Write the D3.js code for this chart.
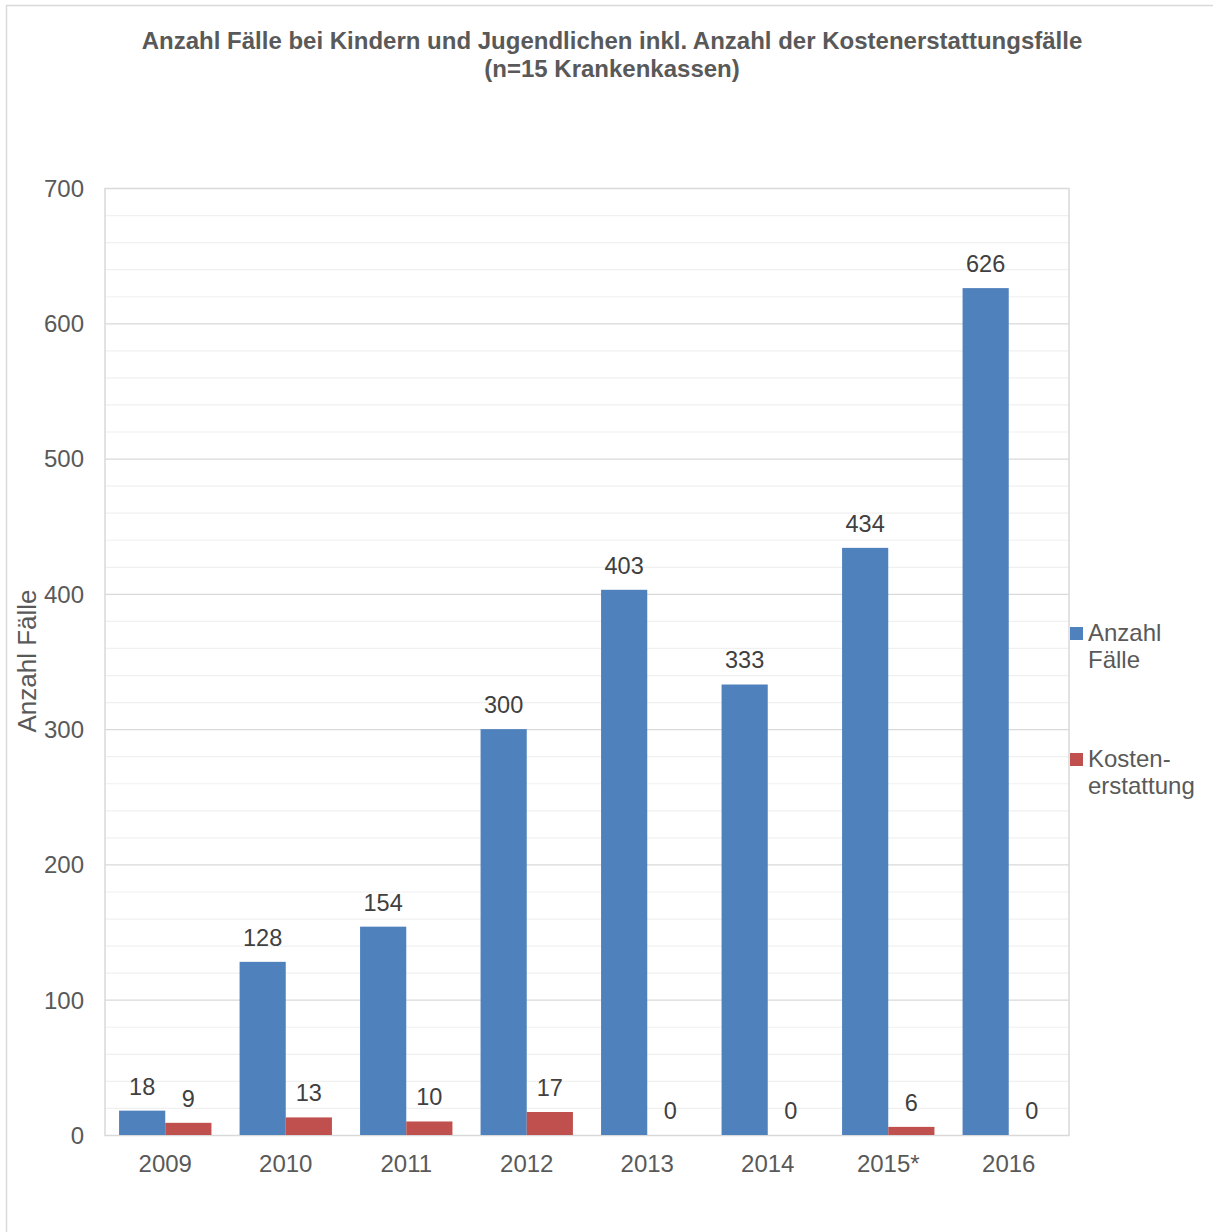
<!DOCTYPE html>
<html>
<head>
<meta charset="utf-8">
<script src="https://cdn.jsdelivr.net/npm/d3@7"></script>
<style>
html,body{margin:0;padding:0;background:#fff;}
svg{display:block;font-family:"Liberation Sans",Arial,sans-serif;}
</style>
</head>
<body>
<svg id="chart" width="1213" height="1232"></svg>
<script>
const categories = ["2009","2010","2011","2012","2013","2014","2015*","2016"];
const anzahlFaelle = [18,128,154,300,403,333,434,626];
const kostenerstattung = [9,13,10,17,0,0,6,0];
const seriesNames = ["Anzahl Fälle","Kostenerstattung"];
const legendLines = [["Anzahl","Fälle"],["Kosten-","erstattung"]];
const yTicks = [0,100,200,300,400,500,600,700];
const titleLines = ["Anzahl Fälle bei Kindern und Jugendlichen inkl. Anzahl der Kostenerstattungsfälle","(n=15 Krankenkassen)"];
const yAxisTitle = "Anzahl Fälle";

(function(){
const colors = ["#4F81BD","#C0504D"];
const textColor = "#595959";
const svg = d3.select("#chart");

svg.append("rect").attr("x",6.5).attr("y",5.5).attr("width",1220).attr("height",1240)
  .attr("fill","none").attr("stroke","#d9d9d9").attr("stroke-width",1.5);

const pL=105, pR=1069, pT=188, pB=1135;
const x = d3.scaleBand().domain(categories).range([pL,pR]).paddingInner(0.2335).paddingOuter(0.1168);
const x1 = d3.scaleBand().domain(seriesNames).range([0,x.bandwidth()]);
const y = d3.scaleLinear().domain([0,700]).range([pB,pT]);

const minor = d3.range(0,701,20).filter(v=>v%100!==0);
svg.append("g").selectAll("line").data(minor).join("line")
  .attr("x1",pL).attr("x2",pR).attr("y1",d=>y(d)+0.5).attr("y2",d=>y(d)+0.5)
  .attr("stroke","#f0f0f0").attr("stroke-width",1.2);
svg.append("g").selectAll("line").data(yTicks).join("line")
  .attr("x1",pL).attr("x2",pR).attr("y1",d=>y(d)+0.5).attr("y2",d=>y(d)+0.5)
  .attr("stroke","#d9d9d9").attr("stroke-width",1.2);
svg.append("rect").attr("x",pL).attr("y",pT+0.5).attr("width",pR-pL).attr("height",pB-pT)
  .attr("fill","none").attr("stroke","#d9d9d9").attr("stroke-width",1.5);

const yAxis = svg.append("g").attr("transform",`translate(${pL-21},0)`)
  .call(d3.axisLeft(y).tickValues(yTicks).tickSize(0).tickPadding(0));
yAxis.select(".domain").remove();
yAxis.selectAll("text").attr("font-size",24).attr("fill",textColor)
  .attr("font-family","Liberation Sans, Arial, sans-serif").attr("dy","0.35em");

const xAxis = svg.append("g").attr("transform",`translate(0,${pB})`)
  .call(d3.axisBottom(x).tickSize(0).tickPadding(0));
xAxis.select(".domain").remove();
xAxis.selectAll("text").attr("font-size",24).attr("fill",textColor)
  .attr("font-family","Liberation Sans, Arial, sans-serif").attr("dy",null).attr("y",37);

const data = categories.map((c,i)=>({cat:c, vals:[anzahlFaelle[i],kostenerstattung[i]]}));
const groups = svg.append("g").selectAll("g").data(data).join("g")
  .attr("transform",d=>`translate(${x(d.cat)},0)`);
groups.selectAll("rect").data(d=>d.vals.map((v,j)=>({v,j}))).join("rect")
  .attr("x",d=>x1(seriesNames[d.j]))
  .attr("width",x1.bandwidth())
  .attr("y",d=>y(d.v))
  .attr("height",d=>pB-y(d.v))
  .attr("fill",d=>colors[d.j]);
groups.selectAll("text").data(d=>d.vals.map((v,j)=>({v,j}))).join("text")
  .attr("x",d=>x1(seriesNames[d.j])+x1.bandwidth()/2)
  .attr("y",d=>y(d.v)-16)
  .attr("text-anchor","middle").attr("font-size",23.5).attr("fill","#404040")
  .text(d=>d.v);

svg.append("g").selectAll("text").data(titleLines).join("text")
  .attr("x",612).attr("y",(d,i)=>48.5+i*28)
  .attr("text-anchor","middle").attr("font-size",24).attr("font-weight","bold")
  .attr("fill",textColor).text(d=>d);

svg.append("text").attr("transform","translate(36,661) rotate(-90)")
  .attr("text-anchor","middle").attr("font-size",26).attr("fill",textColor).text(yAxisTitle);

const legY = [627,753];
const leg = svg.append("g").selectAll("g").data(seriesNames).join("g")
  .attr("transform",(d,i)=>`translate(1070,${legY[i]})`);
leg.append("rect").attr("width",13).attr("height",13).attr("fill",(d,i)=>colors[i]);
leg.append("text").attr("x",18).attr("y",14).attr("font-size",24).attr("fill",textColor)
  .selectAll("tspan").data((d,i)=>legendLines[i]).join("tspan")
  .attr("x",18).attr("dy",(d,k)=>k===0?0:27).text(d=>d);
})();
</script>
</body>
</html>
